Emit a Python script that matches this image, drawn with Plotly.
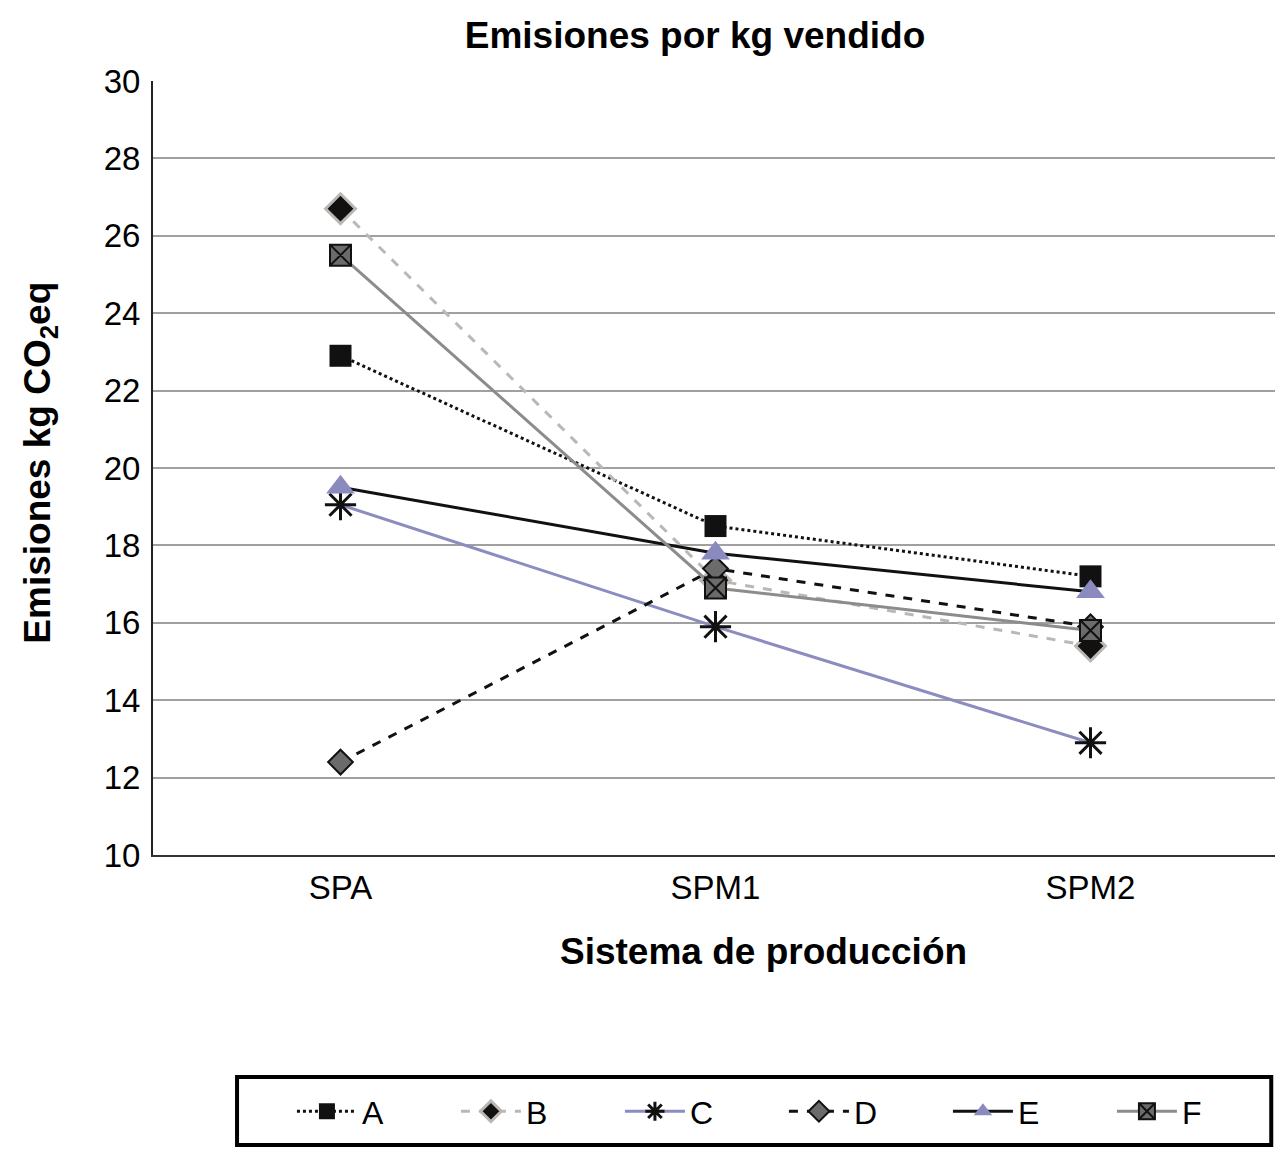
import plotly.graph_objects as go

# Datos
sistemas = ["SPA", "SPM1", "SPM2"]
serie_a = [22.9, 18.5, 17.2]
serie_b = [26.7, 17.1, 15.4]
serie_c = [19.05, 15.9, 12.9]
serie_d = [12.4, 17.4, 15.9]
serie_e = [19.5, 17.8, 16.8]
serie_f = [25.5, 16.9, 15.8]
y_ticks = [10, 12, 14, 16, 18, 20, 22, 24, 26, 28, 30]

FONT = "Liberation Sans, Arial, sans-serif"

series = [
    ("A", serie_a, dict(color="#111111", width=3, dash="dot"),
     dict(symbol="square", size=22, color="#111111", line=dict(width=0))),
    ("B", serie_b, dict(color="#bdb7b4", width=3, dash="dash"),
     dict(symbol="diamond", size=23, color="#111111", line=dict(width=3, color="#bdb7b4"))),
    ("C", serie_c, dict(color="#8c8cc0", width=3),
     dict(symbol="asterisk-open", size=26, color="#111111", line=dict(width=3, color="#111111"))),
    ("D", serie_d, dict(color="#111111", width=3, dash="dash"),
     dict(symbol="diamond", size=19, color="#6b6b6b", line=dict(width=2, color="#111111"))),
    ("E", serie_e, dict(color="#111111", width=3),
     dict(symbol="triangle-up", size=25, color="#8a8abf", line=dict(width=0))),
    ("F", serie_f, dict(color="#8c8c8c", width=3),
     dict(symbol="square-x", size=21, color="#6b6b6b", line=dict(width=2, color="#111111"))),
]

fig = go.Figure()
for name, vals, line, marker in series:
    fig.add_trace(go.Scatter(
        x=sistemas, y=vals, name=name, mode="lines+markers",
        line=line, marker=marker,
    ))

# la página tiene 8px de margen en el body
fig.update_layout(
    width=1283, height=1170,
    margin=dict(l=145, r=13, t=73, b=323, autoexpand=False),
    paper_bgcolor="white", plot_bgcolor="white",
    font=dict(family=FONT, size=34, color="black"),
    title=dict(text="<b>Emisiones por kg vendido</b>", x=0.5355, xref="container",
               xanchor="center", y=0.977, yanchor="middle",
               font=dict(size=37, family=FONT)),
    showlegend=True,
    legend=dict(
        orientation="h", x=0.1235, xanchor="left", y=-0.2958, yanchor="top",
        borderwidth=0, bgcolor="rgba(0,0,0,0)",
        font=dict(size=32, family=FONT), entrywidth=89, itemwidth=60,
        traceorder="normal",
    ),
    xaxis=dict(
        type="category", range=[-0.5, 2.5], showgrid=False,
        showline=True, linecolor="#333333", linewidth=2,
        ticks="", tickfont=dict(size=33), ticklabelstandoff=2,
    ),
    yaxis=dict(
        range=[10, 30], tickvals=y_ticks, showgrid=True,
        gridcolor="#a0a0a0", gridwidth=2, zeroline=False,
        showline=True, linecolor="#222222", linewidth=2,
        ticks="", ticklabelstandoff=4,
        tickfont=dict(size=33),
    ),
    # marco de la leyenda
    shapes=[dict(type="rect", xref="paper", yref="paper",
                 x0=0.0747, x1=0.994, y0=-0.3747, y1=-0.2868,
                 line=dict(color="black", width=4), fillcolor="rgba(0,0,0,0)")],
    annotations=[
        dict(text="<b>Sistema de producción</b>", x=0.543, xref="paper",
             y=-0.125, yref="paper", showarrow=False,
             font=dict(size=37, family=FONT), xanchor="center", yanchor="middle"),
        dict(text="<b>Emisiones kg CO<sub>2</sub>eq</b>", x=-0.1004, xref="paper",
             y=0.507, yref="paper", showarrow=False, textangle=-90,
             font=dict(size=37, family=FONT), xanchor="center", yanchor="middle"),
    ],
)

fig.write_html("out.html")
